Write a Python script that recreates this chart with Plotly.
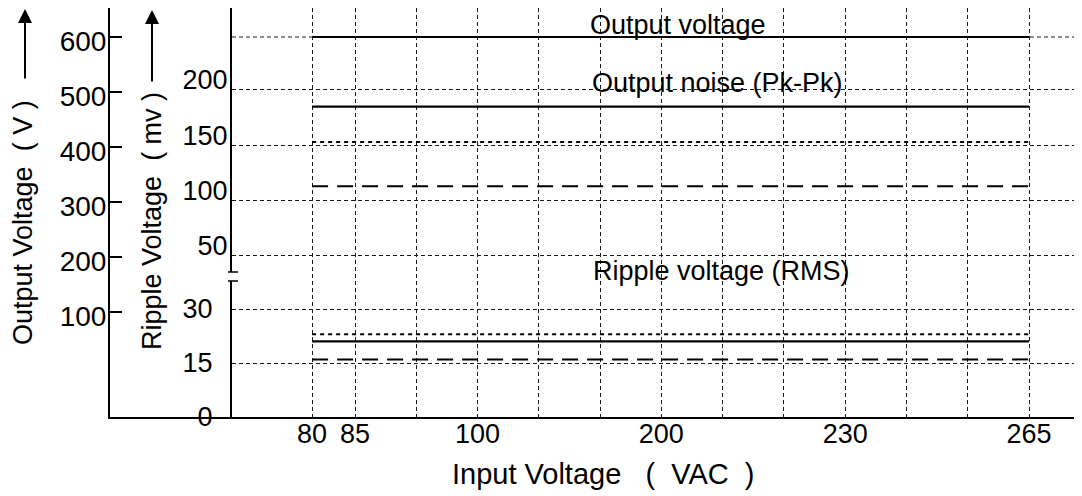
import plotly.graph_objects as go

FONT = "Liberation Sans, Arial, Helvetica, sans-serif"

# ---------------- data ----------------
input_voltage_ticks = [80, 85, 100, 200, 230, 265]          # VAC, labelled ticks
input_span = [80, 265]                                       # VAC, range of curves

output_voltage = [600, 600]                                  # V
noise_pkpk_solid = [185, 185]                                # mV
noise_pkpk_dotted = [153, 153]                               # mV
noise_pkpk_dashed = [113, 113]                               # mV
ripple_rms_dotted = [23, 23]                                 # mV
ripple_rms_solid = [21, 21]                                  # mV
ripple_rms_dashed = [16, 16]                                 # mV

output_v_ticks = [100, 200, 300, 400, 500, 600]
ripple_low_ticks = [0, 15, 30]
ripple_high_ticks = [50, 100, 150, 200]

# ---------------- axis layout (schematic, non-linear input axis) ----------------
slot_of = {80: -0.7, 85: 0, 100: 2, 200: 5, 230: 8, 265: 11}
grid_slots = [-0.7] + list(range(12))
grid_text = []
for s in grid_slots:
    lab = ""
    for v in input_voltage_ticks:
        if abs(slot_of[v] - s) < 1e-9:
            lab = str(v)
    grid_text.append(lab)

def slots(vals):
    return [slot_of[v] for v in vals]

# page body has an 8px margin -> build figure 8px smaller, positions in page px
OFF = 8
W, H = 1082 - OFF, 496 - OFF
PLOT_L, PLOT_R, PLOT_T, PLOT_B = 110, 1082, 8, 417        # page px
L = PLOT_L - OFF
T = PLOT_T - OFF
B = (496 - OFF) - (PLOT_B - OFF)
R = 0
PW = PLOT_R - PLOT_L
PH = PLOT_B - PLOT_T

unit = (1029 - 355) / 11.0
x_range = [(PLOT_L - 355) / unit, (PLOT_R - 355) / unit]
x2_left_px = 232
x2_domain = [(x2_left_px - PLOT_L) / PW, 1]
x2_range = [(x2_left_px - 355) / unit, x_range[1]]

def py(px):  # page pixel y -> paper y
    return (PLOT_B - px) / PH

def pxx(px):  # page pixel x -> paper x
    return (px - PLOT_L) / PW

# vertical scales (px per unit)
out_px_per_v = 0.55
out_600_px = 37
y_out_range = [600 + (out_600_px - PLOT_B) / out_px_per_v, 600 + (out_600_px - PLOT_T) / out_px_per_v]
lo_top_px, hi_bot_px = 281, 272
lo_scale = 3.6
hi_slope = 1.1067
hi_zero_px = 311.3

fig = go.Figure()

line_w = 2.2
fig.add_trace(go.Scatter(x=slots(input_span), y=output_voltage, mode="lines",
                         line=dict(color="black", width=line_w),
                         name="Output voltage", xaxis="x", yaxis="y"))
fig.add_trace(go.Scatter(x=slots(input_span), y=noise_pkpk_solid, mode="lines",
                         line=dict(color="black", width=line_w),
                         name="Output noise (Pk-Pk) solid", xaxis="x2", yaxis="y3"))
fig.add_trace(go.Scatter(x=slots(input_span), y=noise_pkpk_dotted, mode="lines",
                         line=dict(color="black", width=2, dash="4px,4px"),
                         name="Output noise (Pk-Pk) dotted", xaxis="x2", yaxis="y3"))
fig.add_trace(go.Scatter(x=slots(input_span), y=noise_pkpk_dashed, mode="lines",
                         line=dict(color="black", width=2, dash="16px,9px"),
                         name="Output noise (Pk-Pk) dashed", xaxis="x2", yaxis="y3"))
fig.add_trace(go.Scatter(x=slots(input_span), y=ripple_rms_dotted, mode="lines",
                         line=dict(color="black", width=2, dash="4px,4px"),
                         name="Ripple voltage (RMS) dotted", xaxis="x2", yaxis="y2"))
fig.add_trace(go.Scatter(x=slots(input_span), y=ripple_rms_solid, mode="lines",
                         line=dict(color="black", width=line_w),
                         name="Ripple voltage (RMS) solid", xaxis="x2", yaxis="y2"))
fig.add_trace(go.Scatter(x=slots(input_span), y=ripple_rms_dashed, mode="lines",
                         line=dict(color="black", width=2, dash="16px,9px"),
                         name="Ripple voltage (RMS) dashed", xaxis="x2", yaxis="y2"))

grid = dict(showgrid=True, gridcolor="#1a1a1a", gridwidth=1, griddash="4px,3px")
tickfont = dict(family=FONT, size=27, color="black")

fig.update_layout(
    width=W, height=H, autosize=False,
    margin=dict(l=L, r=R, t=T, b=B, pad=0),
    paper_bgcolor="white", plot_bgcolor="rgba(0,0,0,0)",
    showlegend=False,
    font=dict(family=FONT, color="black"),
    xaxis=dict(domain=[0, 1], range=x_range, anchor="y",
               tickmode="array", tickvals=grid_slots, ticktext=grid_text,
               ticks="", tickfont=dict(family=FONT, size=27, color="black"),
               ticklabelstandoff=-8,
               showline=True, linecolor="black", linewidth=2, zeroline=False,
               **grid),
    yaxis=dict(domain=[0, 1], range=y_out_range, anchor="x",
               tickmode="array", tickvals=output_v_ticks,
               ticks="inside", ticklen=12, tickwidth=1.5, tickcolor="black",
               tickfont=dict(family=FONT, size=28, color="black"),
               ticklabelshift=4, ticklabelstandoff=-4,
               showline=True, linecolor="black", linewidth=2,
               showgrid=False, zeroline=False),
    xaxis2=dict(domain=x2_domain, range=x2_range, anchor="y2",
                visible=False, showgrid=False, zeroline=False),
    yaxis2=dict(domain=[0, py(lo_top_px)], range=[0, (PLOT_B - lo_top_px) / lo_scale],
                anchor="x2", tickmode="array", tickvals=ripple_low_ticks,
                ticks="", tickfont=tickfont, ticklabelstandoff=12,
                showline=True, linecolor="black", linewidth=2, zeroline=False,
                **grid),
    yaxis3=dict(domain=[py(hi_bot_px), 1],
                range=[(hi_zero_px - hi_bot_px) / hi_slope, (hi_zero_px - PLOT_T) / hi_slope],
                anchor="x2", tickmode="array", tickvals=ripple_high_ticks,
                ticks="", tickfont=tickfont, ticklabelstandoff=-3, ticklabelshift=-10,
                showline=True, linecolor="black", linewidth=2, zeroline=False,
                **grid),
)

# grid line at the 600 V level across the ripple area
fig.add_shape(type="line", xref="x2 domain", x0=0, x1=1, yref="y", y0=600, y1=600,
              line=dict(color="#1a1a1a", width=1, dash="4px,3px"), layer="below")
# axis-break marks
for yr, yv in (("y2 domain", 1), ("y3 domain", 0)):
    fig.add_shape(type="line", xref="paper", x0=pxx(228), x1=pxx(238),
                  yref=yr, y0=yv, y1=yv, line=dict(color="black", width=1.5))

NB = "\u00a0"
ann_font = dict(family=FONT, size=27, color="black")
title_font = dict(family=FONT, size=27, color="black")
annotations = [
    dict(text="Output voltage", x=pxx(678), y=py(PLOT_T), yanchor="top", font=ann_font),
    dict(text="Output noise (Pk-Pk)", x=pxx(717), y=py(83), font=ann_font),
    dict(text="Ripple voltage (RMS)", x=pxx(721), y=py(271), font=ann_font),
    dict(text="Output Voltage" + NB * 2 + "(" + NB + "V" + NB + ")", x=pxx(23), y=py(223),
         textangle=-90, font=title_font),
    dict(text="Ripple Voltage" + NB * 2 + "(" + NB + "mv" + NB + ")", x=pxx(152), y=py(221),
         textangle=-90, font=title_font),
    dict(text="Input Voltage" + NB * 3 + "(" + NB * 2 + "VAC" + NB * 2 + ")", x=pxx(603), y=py(474),
         font=dict(family=FONT, size=29, color="black")),
]
for a in annotations:
    a.setdefault("yanchor", "middle")
    fig.add_annotation(xref="paper", yref="paper", showarrow=False,
                       xanchor="center", **a)

# up arrows next to the vertical titles
for ax_px, tip_px, tail_px in ((25, 9, 80), (152, 10, 83)):
    fig.add_annotation(xref="paper", yref="paper", x=pxx(ax_px), y=py(tip_px),
                       ax=0, ay=tail_px - tip_px, axref="pixel", ayref="pixel",
                       text="", showarrow=True, arrowhead=2, arrowsize=1.4,
                       arrowwidth=2, arrowcolor="black")

fig.write_html("out.html")
